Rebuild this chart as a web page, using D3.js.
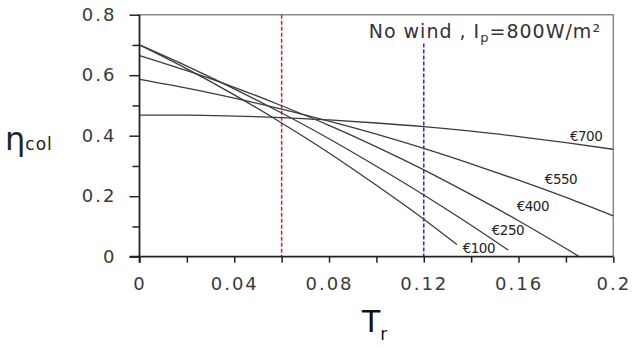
<!DOCTYPE html>
<html>
<head>
<meta charset="utf-8">
<script src="https://cdn.jsdelivr.net/npm/d3@7"></script>
<style>
  body { margin: 0; background: #fff; }
  svg { display: block; }
  .tick text { font-family: "DejaVu Sans", sans-serif; font-size: 18px; fill: #3a3a3a; letter-spacing: 2px; }
</style>
</head>
<body>
<svg id="chart" width="636" height="348"></svg>
<script>
'use strict';

// reduced temperature Tr (x) and collector efficiency (y)
var seriesNames = ['€700', '€550', '€400', '€250', '€100']
var tr700 = [0, 0.02, 0.04, 0.06, 0.08, 0.10, 0.12, 0.14, 0.16, 0.18, 0.20]
var eta700 = [0.468, 0.468, 0.465, 0.460, 0.452, 0.442, 0.430, 0.415, 0.397, 0.377, 0.355]
var tr550 = [0, 0.02, 0.04, 0.06, 0.08, 0.10, 0.12, 0.14, 0.16, 0.18, 0.20]
var eta550 = [0.586, 0.557, 0.524, 0.488, 0.448, 0.405, 0.358, 0.307, 0.253, 0.196, 0.135]
var tr400 = [0, 0.02, 0.04, 0.06, 0.08, 0.10, 0.12, 0.14, 0.16, 0.18, 0.1857]
var eta400 = [0.665, 0.615, 0.560, 0.499, 0.434, 0.363, 0.287, 0.205, 0.119, 0.027, 0]
var tr250 = [0, 0.02, 0.04, 0.06, 0.08, 0.10, 0.12, 0.14, 0.1556]
var eta250 = [0.700, 0.630, 0.555, 0.475, 0.390, 0.299, 0.204, 0.104, 0.022]
var tr100 = [0, 0.02, 0.04, 0.06, 0.08, 0.10, 0.12, 0.134]
var eta100 = [0.700, 0.621, 0.535, 0.442, 0.343, 0.236, 0.124, 0.040]

var xMajorTicks = [0, 0.04, 0.08, 0.12, 0.16, 0.2]
var xMinorTicks = [0.02, 0.06, 0.10, 0.14, 0.18]
var yMajorTicks = [0, 0.2, 0.4, 0.6, 0.8]
var yMinorTicks = [0.1, 0.3, 0.5, 0.7]
var refLines = [0.06, 0.12]   // red and blue dashed markers

var svg = d3.select('#chart')
var x = d3.scaleLinear().domain([0, 0.2]).range([139.5, 613.3])
var y = d3.scaleLinear().domain([0, 0.8]).range([256.7, 14.7])
var fmt = function(d) { return d === 0 ? '0' : String(+d.toFixed(2)) }

// frame (top and right, light)
svg.append('path')
    .attr('d', 'M' + x(0) + ',' + y(0.8) + 'H' + x(0.2) + 'V' + y(0))
    .attr('fill', 'none')
    .attr('stroke', '#8a8a8a')
    .attr('stroke-width', 1.5)

// dashed reference lines
svg.append('line')
    .attr('x1', x(refLines[0])).attr('x2', x(refLines[0]))
    .attr('y1', y(0.8)).attr('y2', y(0))
    .attr('stroke', '#e02020').attr('stroke-width', 1.5)
    .attr('stroke-dasharray', '4,2')
svg.append('line')
    .attr('x1', x(refLines[1])).attr('x2', x(refLines[1]))
    .attr('y1', 43.5).attr('y2', y(0))
    .attr('stroke', '#2a2ad0').attr('stroke-width', 1.5)
    .attr('stroke-dasharray', '4,2')

// curves
var curves = [
    [tr700, eta700], [tr550, eta550], [tr400, eta400], [tr250, eta250], [tr100, eta100]
]
var line = d3.line()
    .x(function(d) { return x(d[0]) })
    .y(function(d) { return y(d[1]) })
    .curve(d3.curveMonotoneX)
curves.forEach(function(c) {
    var pts = c[0].map(function(t, i) { return [t, c[1][i]] })
    svg.append('path')
        .datum(pts)
        .attr('d', line)
        .attr('fill', 'none')
        .attr('stroke', '#3c3c3c')
        .attr('stroke-width', 1.3)
})

// curve labels, anchored in data units
var labelAt = [[0.1817, 0.3825], [0.1711, 0.240], [0.1592, 0.151], [0.1487, 0.0717], [0.1364, 0.0122]]
seriesNames.forEach(function(name, i) {
    svg.append('text')
        .attr('x', x(labelAt[i][0]))
        .attr('y', y(labelAt[i][1]))
        .attr('font-family', 'DejaVu Sans, sans-serif')
        .attr('font-size', 13.5)
        .attr('fill', '#222')
        .attr('letter-spacing', -0.5)
        .text(name)
})

// axes
var yAxis = svg.append('g').attr('transform', 'translate(' + x(0) + ',0)')
yAxis.call(d3.axisLeft(y).tickValues(yMajorTicks).tickSize(10).tickPadding(13).tickFormat(fmt))
svg.append('g').attr('transform', 'translate(' + x(0) + ',0)')
    .call(d3.axisLeft(y).tickValues(yMinorTicks).tickSize(7).tickFormat(''))
    .select('.domain').remove()
var xAxis = svg.append('g').attr('transform', 'translate(0,' + y(0) + ')')
xAxis.call(d3.axisBottom(x).tickValues(xMajorTicks).tickSize(6).tickPadding(15).tickFormat(fmt))
svg.append('g').attr('transform', 'translate(0,' + y(0) + ')')
    .call(d3.axisBottom(x).tickValues(xMinorTicks).tickSize(6).tickFormat(''))
    .select('.domain').remove()

svg.selectAll('.domain').attr('stroke', '#222').attr('stroke-width', 1.8)
svg.selectAll('.tick line').attr('stroke', '#222').attr('stroke-width', 1.5)
yAxis.select('.domain').attr('d', 'M0,' + (y(0) + 6) + 'V' + y(0.8))
xAxis.select('.domain').attr('d', 'M' + (x(0) - 10) + ',0H' + x(0.2))

// title
var title = svg.append('text')
    .attr('x', 601).attr('y', 38)
    .attr('text-anchor', 'end')
    .attr('font-family', 'DejaVu Sans, sans-serif')
    .attr('font-size', 19)
    .attr('fill', '#333')
    .attr('letter-spacing', 1)
title.append('tspan').text('No wind , I')
title.append('tspan').attr('font-size', 13).attr('dy', 4).text('p')
title.append('tspan').attr('dy', -4).text('=800W/m²')

// axis titles
var yt = svg.append('text')
    .attr('x', 5).attr('y', 150)
    .attr('font-family', 'DejaVu Sans, sans-serif')
    .attr('fill', '#222')
yt.append('tspan').attr('font-size', 32).text('η')
yt.append('tspan').attr('font-size', 17).attr('letter-spacing', 1).text('col')

var xt = svg.append('text')
    .attr('x', 362).attr('y', 332)
    .attr('font-family', 'DejaVu Sans, sans-serif')
    .attr('fill', '#111')
xt.append('tspan').attr('font-size', 30).text('T')
xt.append('tspan').attr('font-size', 17).attr('dy', 8).text('r')
</script>
</body>
</html>
